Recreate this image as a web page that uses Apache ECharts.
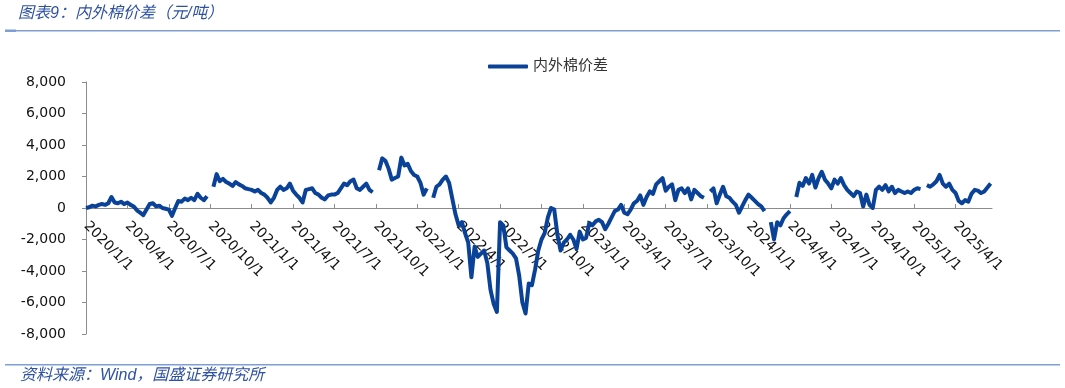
<!DOCTYPE html>
<html>
<head>
<meta charset="utf-8">
<script src="https://cdn.jsdelivr.net/npm/echarts@6/dist/echarts.min.js"></script>
<style>
html,body{margin:0;padding:0;background:#fff;}
#chart{width:1065px;height:388px;}
</style>
</head>
<body>
<div id="chart"></div>
<script>
// Quarter tick labels (x axis)
const tickLabels = ['2020/1/1','2020/4/1','2020/7/1','2020/10/1','2021/1/1','2021/4/1','2021/7/1','2021/10/1',
  '2022/1/1','2022/4/1','2022/7/1','2022/10/1','2023/1/1','2023/4/1','2023/7/1','2023/10/1',
  '2024/1/1','2024/4/1','2024/7/1','2024/10/1','2025/1/1','2025/4/1'];
const seriesName = '内外棉价差';
const weeksPerQuarter = 13;
// Weekly readings (yuan/ton), 13 per quarter starting 2020/1/1; null = holiday gap
const values = [
  0, 50, 150, 100, 200, 250, 200, 300, 700, 350, 300, 400, 250,
  350, 200, 100, -150, -300, -450, -100, 250, 300, 100, 150, 0, -50,
  -100, -500, 0, 450, 400, 600, 500, 650, 500, 900, 650, 500, 750,
  null, 1350, 2150, 1700, 1850, 1650, 1550, 1400, 1650, 1500, 1400, 1250, 1200,
  1150, 1050, 1150, 950, 850, 650, 350, 650, 1150, 1350, 1150, 1250, 1550,
  1100, 850, 650, 350, 1150, 1200, 1250, 950, 850, 650, 550, 800, 850,
  850, 950, 1250, 1550, 1450, 1700, 1800, 1250, 1150, 1350, 1550, 1150, 1000,
  null, 2400, 3150, 3000, 2500, 1800, 1900, 2000, 3200, 2700, 2800, 2350, 2100,
  2000, 1600, 850, 1250, null, 650, 1350, 1500, 1800, 2000, 1600, 600, -400,
  -1100, -900, -1600, -2200, -4400, -2450, -3100, -2900, -2700, -3500, -5200, -6100, -6600,
  -900, -1100, -2500, -2700, -2900, -3200, -4300, -6000, -6700, -4800, -4900, -3900, -2700,
  -2000, -1600, -600, 0, -100, -1700, -2700, -2200, -2000, -1700, -2000, -2600, -1500,
  -2000, -1900, -950, -1100, -850, -750, -900, -1350, -1000, -600, -200, -100, 200,
  -300, -400, -100, 300, 450, 800, 200, 700, 1050, 900, 1500, 1700, 1900,
  1100, 1350, 1500, 500, 1150, 1250, 950, 1250, 550, 1150, 950, 750, 650,
  null, 1050, 1250, 300, 850, 1350, 750, 650, 400, 200, -300, 100, 500,
  850, 650, 450, 250, 100, -200, null, -900, -2000, -900, -1100, -650, -400,
  -200, null, 700, 1600, 1400, 1900, 1550, 2100, 1300, 1900, 2300, 1800, 1550,
  1250, 1800, 1550, 1900, 1450, 1150, 950, 750, 1050, 950, 100, 850, 200,
  0, 1150, 1350, 1150, 1450, 1050, 1350, 950, 1150, 1050, 950, 1050, 950,
  1150, 1250, 1200, null, 1450, 1350, 1500, 1700, 2100, 1550, 1350, 1550, 1150,
  950, 450, 300, 500, 400, 900, 1150, 1100, 950, 1050, 1300, 1550
];

const data = values.map((v, i) => [i / weeksPerQuarter, v]);
const xMax = 21.88;
const yMin = -8000, yMax = 8000;

const gridTop = 82, gridBottom = 54, chartH = 388;
const plotH = chartH - gridTop - gridBottom;
// x axis sits on the zero line: offset from the grid bottom up to y=0
const zeroOffset = -plotH * (0 - yMin) / (yMax - yMin);

const chart = echarts.init(document.getElementById('chart'), null, {renderer: 'canvas'});
const numFont = "'DejaVu Sans', 'Noto Sans CJK SC', sans-serif";
const cjkFont = "'Liberation Sans', 'Noto Sans CJK SC', sans-serif";
chart.setOption({
  animation: false,
  backgroundColor: '#ffffff',
  grid: {left: 86, right: 73, top: gridTop, bottom: gridBottom, containLabel: false, outerBoundsMode: 'none'},
  legend: {
    data: [seriesName],
    left: 483, top: 54,
    icon: 'roundRect', itemWidth: 40, itemHeight: 4, itemGap: 7,
    textStyle: {fontSize: 15, color: '#333', fontFamily: numFont}
  },
  xAxis: {
    type: 'value', min: 0, max: xMax, interval: 1,
    position: 'bottom', offset: zeroOffset,
    axisLine: {onZero: false, lineStyle: {color: '#8c8c8c', width: 1}},
    axisTick: {inside: true, length: 4, lineStyle: {color: '#8c8c8c'}},
    splitLine: {show: false},
    axisLabel: {
      rotate: -45, margin: 16, fontSize: 14, color: '#111', fontFamily: numFont,
      showMaxLabel: false,
      formatter: v => (Number.isInteger(v) && tickLabels[v]) ? tickLabels[v] : ''
    }
  },
  yAxis: {
    type: 'value', min: yMin, max: yMax, interval: 2000,
    axisLine: {show: true, onZero: false, lineStyle: {color: '#8c8c8c', width: 1}},
    axisTick: {show: true, length: 4, lineStyle: {color: '#8c8c8c'}},
    splitLine: {show: false},
    axisLabel: {
      margin: 20, fontSize: 14, color: '#111', fontFamily: numFont,
      formatter: v => v.toLocaleString('en-US')
    }
  },
  series: [{
    name: seriesName, type: 'line', data: data,
    showSymbol: false, connectNulls: false, smooth: false,
    lineStyle: {color: '#0a4298', width: 4, join: 'round'},
    itemStyle: {color: '#0a4298'}
  }],
  graphic: [
    {type: 'text', left: 18, top: 6, style: {text: '图表9：内外棉价差（元/吨）', fontSize: 16, fontStyle: 'italic', fill: '#2f52a0', fontFamily: cjkFont}},
    {type: 'rect', shape: {x: 5, y: 30, width: 1055, height: 1.5}, style: {fill: '#7f9fd4'}},
    {type: 'rect', shape: {x: 5, y: 29.5, width: 11, height: 2.5}, style: {fill: '#7f9fd4'}},
    {type: 'rect', shape: {x: 5, y: 364, width: 1055, height: 1.5}, style: {fill: '#7f9fd4'}},
    {type: 'text', left: 20, top: 368, style: {text: '资料来源：Wind，国盛证券研究所', fontSize: 16, fontStyle: 'italic', fill: '#2f52a0', fontFamily: cjkFont}}
  ]
});
</script>
</body>
</html>
